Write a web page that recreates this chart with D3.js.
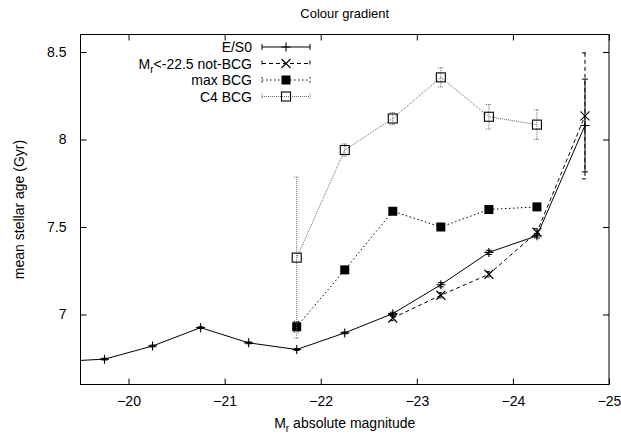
<!DOCTYPE html>
<html>
<head>
<meta charset="utf-8">
<script src="https://cdn.jsdelivr.net/npm/d3@7"></script>
<style>
body{margin:0;background:#fff;}
text{font-family:"Liberation Sans",Arial,sans-serif;fill:#000;}
</style>
</head>
<body>
<svg id="chart" width="621" height="437"></svg>
<script>
// magnitude bins
var esoMag = [-19.25,-19.75,-20.25,-20.75,-21.25,-21.75,-22.25,-22.75,-23.25,-23.75,-24.25,-24.75];
var esoAge = [6.73,6.745,6.82,6.925,6.838,6.80,6.895,7.005,7.17,7.355,7.45,8.08];
var esoErr = [0.005,0.005,0.005,0.005,0.005,0.005,0.005,0.008,0.012,0.012,0.012,0.265];

var notMag = [-22.75,-23.25,-23.75,-24.25,-24.75];
var notAge = [6.98,7.11,7.23,7.47,8.135];
var notErr = [0.015,0.015,0.015,0.02,0.36];

var maxMag = [-21.75,-22.25,-22.75,-23.25,-23.75,-24.25];
var maxAge = [6.93,7.255,7.59,7.50,7.60,7.615];
var maxErr = [0.03,0.015,0.015,0.015,0.015,0.015];

var c4Mag = [-21.75,-22.25,-22.75,-23.25,-23.75,-24.25];
var c4Age = [7.325,7.94,8.12,8.355,8.13,8.085];
var c4Err = [0.46,0.035,0.035,0.055,0.07,0.085];

var xTicks = [-20,-21,-22,-23,-24,-25];
var yTicks = [7,7.5,8,8.5];
var seriesNames = ["E/S0","not-BCG","max BCG","C4 BCG"];

var svg = d3.select("#chart");
var L = 80.5, R = 609, T = 34.5, B = 384.5;

var x = d3.scaleLinear().domain([-19.5,-25]).range([L,R]);
var y = d3.scaleLinear().domain([6.6,8.6]).range([B,T]);

svg.append("defs").append("clipPath").attr("id","clip")
	.append("rect").attr("x",L).attr("y",T).attr("width",R-L).attr("height",B-T);

// axes with mirrored ticks
var tl = 6;
svg.append("g").attr("transform","translate(0,"+B+")")
	.call(d3.axisBottom(x).tickValues(xTicks).tickSize(-tl).tickPadding(12).tickFormat(d3.format("d")))
	.call(function(g){ g.select(".domain").remove(); });
svg.append("g").attr("transform","translate(0,"+T+")")
	.call(d3.axisTop(x).tickValues(xTicks).tickSize(-tl).tickFormat(""))
	.call(function(g){ g.select(".domain").remove(); });
svg.append("g").attr("transform","translate("+L+",0)")
	.call(d3.axisLeft(y).tickValues(yTicks).tickSize(-tl).tickPadding(14).tickFormat(d3.format("")))
	.call(function(g){ g.select(".domain").remove(); });
svg.append("g").attr("transform","translate("+R+",0)")
	.call(d3.axisRight(y).tickValues(yTicks).tickSize(-tl).tickFormat(""))
	.call(function(g){ g.select(".domain").remove(); });
svg.selectAll(".tick line").attr("stroke","#000");
svg.selectAll(".tick text").attr("font-size",14).attr("font-family","Liberation Sans, Arial, sans-serif");

svg.append("rect").attr("x",L).attr("y",T).attr("width",R-L).attr("height",B-T)
	.attr("fill","none").attr("stroke","#000").attr("stroke-width",1);

// titles
svg.append("text").attr("x",(L+R)/2).attr("y",18).attr("text-anchor","middle")
	.attr("font-size",13).text("Colour gradient");
var xl = svg.append("text").attr("x",(L+R)/2).attr("y",428).attr("text-anchor","middle").attr("font-size",14);
xl.append("tspan").text("M");
xl.append("tspan").attr("font-size",10).attr("dy",4).text("r");
xl.append("tspan").attr("dy",-4).text(" absolute magnitude");
svg.append("text").attr("transform","translate(24,"+((T+B)/2)+") rotate(-90)")
	.attr("text-anchor","middle").attr("font-size",14).text("mean stellar age (Gyr)");

var styles = [
	{stroke:"#000", dash:null},
	{stroke:"#000", dash:"4,3"},
	{stroke:"#000", dash:"1.5,2.5"},
	{stroke:"#666", dash:"1,1"}
];

function markerPath(g, kind, cx, cy){
	var s = 4.5;
	if(kind==0){
		g.append("path").attr("d","M"+(cx-s)+","+cy+"H"+(cx+s)+"M"+cx+","+(cy-s)+"V"+(cy+s))
			.attr("stroke","#000").attr("stroke-width",1.1).attr("fill","none");
	}else if(kind==1){
		g.append("path").attr("d","M"+(cx-s)+","+(cy-s)+"L"+(cx+s)+","+(cy+s)+"M"+(cx-s)+","+(cy+s)+"L"+(cx+s)+","+(cy-s))
			.attr("stroke","#000").attr("stroke-width",1.1).attr("fill","none");
	}else if(kind==2){
		g.append("rect").attr("x",cx-s).attr("y",cy-s).attr("width",2*s).attr("height",2*s).attr("fill","#000");
	}else{
		g.append("rect").attr("x",cx-s).attr("y",cy-s).attr("width",2*s).attr("height",2*s)
			.attr("fill","none").attr("stroke","#000").attr("stroke-width",1.1);
	}
}

function drawSeries(mags, ages, errs, k){
	var st = styles[k];
	var data = mags.map(function(m,i){ return {m:m, a:ages[i], e:errs[i]}; });
	var g = svg.append("g").attr("clip-path","url(#clip)");
	var line = d3.line().x(function(d){return x(d.m);}).y(function(d){return y(d.a);});
	g.append("path").datum(data).attr("d",line).attr("fill","none")
		.attr("stroke",st.stroke).attr("stroke-width",1).attr("stroke-dasharray",st.dash);
	// error bars
	data.forEach(function(d){
		var cx = x(d.m), y0 = y(d.a+d.e), y1 = y(d.a-d.e), c = 3;
		g.append("path").attr("d","M"+cx+","+y0+"V"+y1+"M"+(cx-c)+","+y0+"H"+(cx+c)+"M"+(cx-c)+","+y1+"H"+(cx+c))
			.attr("fill","none").attr("stroke",st.stroke).attr("stroke-width",1).attr("stroke-dasharray",st.dash);
	});
	var mg = svg.append("g").attr("clip-path","url(#clip)");
	data.forEach(function(d){ markerPath(mg, k, x(d.m), y(d.a)); });
}

drawSeries(esoMag, esoAge, esoErr, 0);
drawSeries(notMag, notAge, notErr, 1);
drawSeries(maxMag, maxAge, maxErr, 2);
drawSeries(c4Mag, c4Age, c4Err, 3);

// key
var keyY = [47,63.5,80,96.5];
var kx0 = 262, kx1 = 310;
var key = svg.append("g");
[0,1,2,3].forEach(function(k){
	var ky = keyY[k], st = styles[k];
	var t = key.append("text").attr("x",252).attr("y",ky+5).attr("text-anchor","end").attr("font-size",14);
	if(k==1){
		t.append("tspan").text("M");
		t.append("tspan").attr("font-size",10).attr("dy",4).text("r");
		t.append("tspan").attr("dy",-4).text("<-22.5 not-BCG");
	}else{
		t.text(seriesNames[k]);
	}
	key.append("path").attr("d","M"+kx0+","+ky+"H"+kx1+"M"+kx0+","+(ky-3)+"V"+(ky+3)+"M"+kx1+","+(ky-3)+"V"+(ky+3))
		.attr("fill","none").attr("stroke",st.stroke).attr("stroke-width",1).attr("stroke-dasharray",st.dash);
	markerPath(key, k, (kx0+kx1)/2, ky);
});
</script>
</body>
</html>
